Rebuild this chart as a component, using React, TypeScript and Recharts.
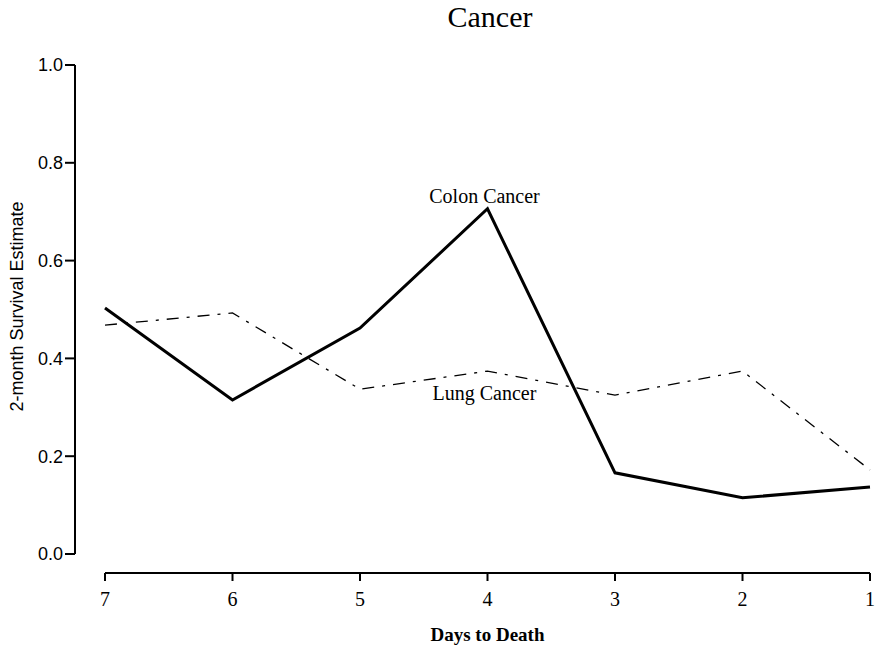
import { LineChart, Line, XAxis, YAxis, LabelList } from 'recharts';

// Days to death, left to right (7 down to 1)
const DAYS = [7, 6, 5, 4, 3, 2, 1];
const COLON = [0.503, 0.315, 0.462, 0.706, 0.166, 0.115, 0.137];
const LUNG = [0.468, 0.493, 0.337, 0.374, 0.325, 0.374, 0.172];
const Y_TICKS = [0, 0.2, 0.4, 0.6, 0.8, 1.0];

const data = DAYS.map((d, i) => ({ day: d, colon: COLON[i], lung: LUNG[i] }));

const SERIF = "'Liberation Serif', 'Times New Roman', serif";
const SANS = "'Liberation Sans', Arial, sans-serif";

// names the curve once, next to its point at day 4
const seriesLabel = (text: string, dy: number) => (props: any) => {
  if (data[props.index]?.day !== 4) return null;
  return (
    <text
      x={props.x - 3}
      y={props.y + dy}
      textAnchor="middle"
      fontFamily={SERIF}
      fontSize={20}
      fill="#000"
    >
      {text}
    </text>
  );
};

export default function App() {
  return (
    <div style={{ position: 'absolute', left: 0, top: 0, width: 875, height: 654, background: '#fff' }}>
      <div
        style={{
          position: 'absolute',
          left: 490,
          top: 2,
          transform: 'translateX(-50%)',
          fontFamily: SERIF,
          fontSize: 30,
          lineHeight: 1,
          color: '#000',
          whiteSpace: 'nowrap',
        }}
      >
        Cancer
      </div>
      <LineChart
        width={875}
        height={654}
        data={data}
        margin={{ top: 65, right: 5, bottom: 0, left: 0 }}
      >
        {/* spacer axes: keep the two axis lines apart, as in the original plot */}
        <XAxis xAxisId="gap" type="number" domain={[0, 1]} height={19} axisLine={false} tickLine={false} tick={false} />
        <YAxis yAxisId="gap" type="number" domain={[0, 1]} width={30} axisLine={false} tickLine={false} tick={false} />
        <XAxis
          xAxisId="main"
          dataKey="day"
          type="number"
          domain={[1, 7]}
          reversed
          ticks={DAYS}
          height={81}
          stroke="#000"
          strokeWidth={2}
          tickSize={8}
          tickMargin={11}
          tick={{ fill: '#000', fontSize: 20, fontFamily: SERIF }}
          label={{
            value: 'Days to Death',
            position: 'insideBottom',
            offset: 13,
            fill: '#000',
            fontSize: 19,
            fontWeight: 'bold',
            fontFamily: SERIF,
          }}
        />
        <YAxis
          yAxisId="main"
          type="number"
          domain={[0, 1]}
          ticks={Y_TICKS}
          tickFormatter={(v: number) => v.toFixed(1)}
          width={75}
          stroke="#000"
          strokeWidth={2}
          tickSize={10}
          tickMargin={2}
          tick={{ fill: '#000', fontSize: 18, fontFamily: SANS }}
          label={{
            content: (p: any) => {
              const vb = p.viewBox || {};
              const cx = (vb.x ?? 0) + 17;
              const cy = (vb.y ?? 0) + (vb.height ?? 0) / 2 - 3;
              return (
                <text
                  x={cx}
                  y={cy}
                  transform={`rotate(-90 ${cx} ${cy})`}
                  textAnchor="middle"
                  dominantBaseline="central"
                  fontFamily={SANS}
                  fontSize={18}
                  fill="#000"
                >
                  2-month Survival Estimate
                </text>
              );
            },
          }}
        />
        <Line
          xAxisId="main"
          yAxisId="main"
          dataKey="lung"
          stroke="#000"
          strokeWidth={1.3}
          strokeDasharray="12 8 3 8"
          dot={false}
          isAnimationActive={false}
        >
          <LabelList dataKey="lung" content={seriesLabel('Lung Cancer', 29)} />
        </Line>
        <Line
          xAxisId="main"
          yAxisId="main"
          dataKey="colon"
          stroke="#000"
          strokeWidth={3}
          strokeLinejoin="miter"
          dot={false}
          isAnimationActive={false}
        >
          <LabelList dataKey="colon" content={seriesLabel('Colon Cancer', -6)} />
        </Line>
      </LineChart>
    </div>
  );
}
